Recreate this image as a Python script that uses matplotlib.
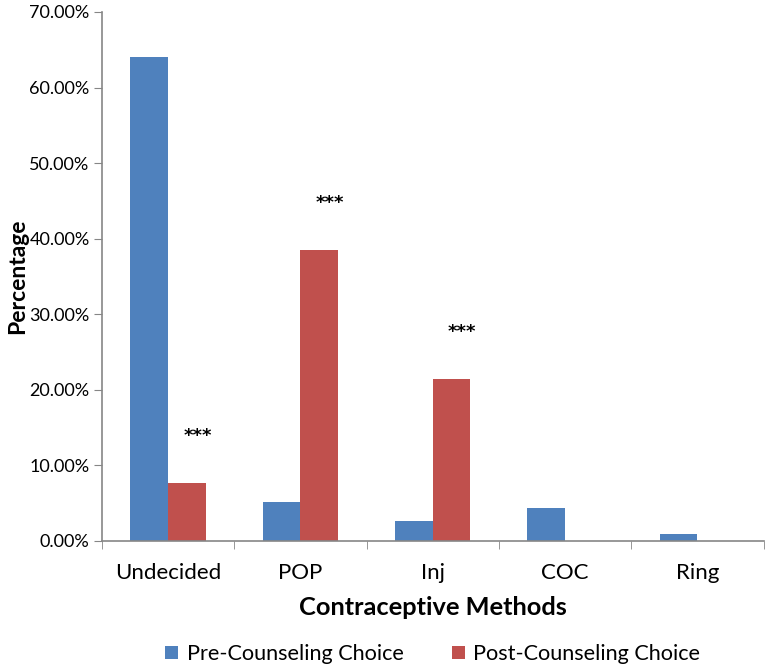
import matplotlib
matplotlib.use("Agg")
import matplotlib.pyplot as plt
import numpy as np

# data
methods = ["Undecided", "POP", "Inj", "COC", "Ring"]
pre_counseling = [64.1, 5.1, 2.6, 4.3, 0.9]
post_counseling = [7.7, 38.5, 21.4, 0.0, 0.0]
significance = ["***", "***", "***", "", ""]

plt.rcParams['font.family'] = ['Lato', 'DejaVu Sans']

fig = plt.figure(figsize=(7.67, 6.65), dpi=100)
ax = fig.add_axes([0.133, 0.1865, 0.8625, 0.7955])

x = np.arange(len(methods))
w = 0.285
blue = '#4F81BD'
red = '#C0504D'
ax.bar(x - w / 2, pre_counseling, w, color=blue, label="Pre-Counseling Choice")
ax.bar(x + w / 2, post_counseling, w, color=red, label="Post-Counseling Choice")

# significance stars over the post-counseling bars
for i, s in enumerate(significance):
    if s:
        ax.text(x[i] + w / 2 + 0.08, post_counseling[i] + 6.2, s,
                ha='center', va='center', fontsize=13, fontweight='bold',
                family='DejaVu Sans')

ax.set_xlim(-0.5, len(methods) - 0.5)
ax.set_ylim(0, 70)
ax.set_yticks(np.arange(0, 71, 10))
ax.set_yticklabels([f"{v:.2f}%" for v in np.arange(0, 71, 10)], fontsize=13)

# category labels centred, tick marks at the boundaries
ax.set_xticks(x)
ax.set_xticklabels(methods, fontsize=16)
ax.set_xticks(np.arange(-0.5, len(methods)), minor=True)
ax.tick_params(axis='x', which='major', length=0, pad=16)
ax.tick_params(axis='x', which='minor', length=6, color='#868686')
ax.tick_params(axis='y', length=6, color='#868686', pad=3)

for side in ['top', 'right']:
    ax.spines[side].set_visible(False)
for side in ['left', 'bottom']:
    ax.spines[side].set_color('#868686')
    ax.spines[side].set_linewidth(1.2)

ax.set_xlabel("Contraceptive Methods", fontsize=18.3, fontweight='bold', labelpad=9)
ax.set_ylabel("Percentage", fontsize=16.5, fontweight='bold', va='center')
ax.yaxis.set_label_coords(-0.128, 0.5)

ax.legend(loc='upper center', bbox_to_anchor=(0.5, -0.158), ncol=2, frameon=False,
          fontsize=15.6, handlelength=0.6, handleheight=0.6, columnspacing=2.2,
          handletextpad=0.4)

fig.savefig("out.png", dpi=100)
